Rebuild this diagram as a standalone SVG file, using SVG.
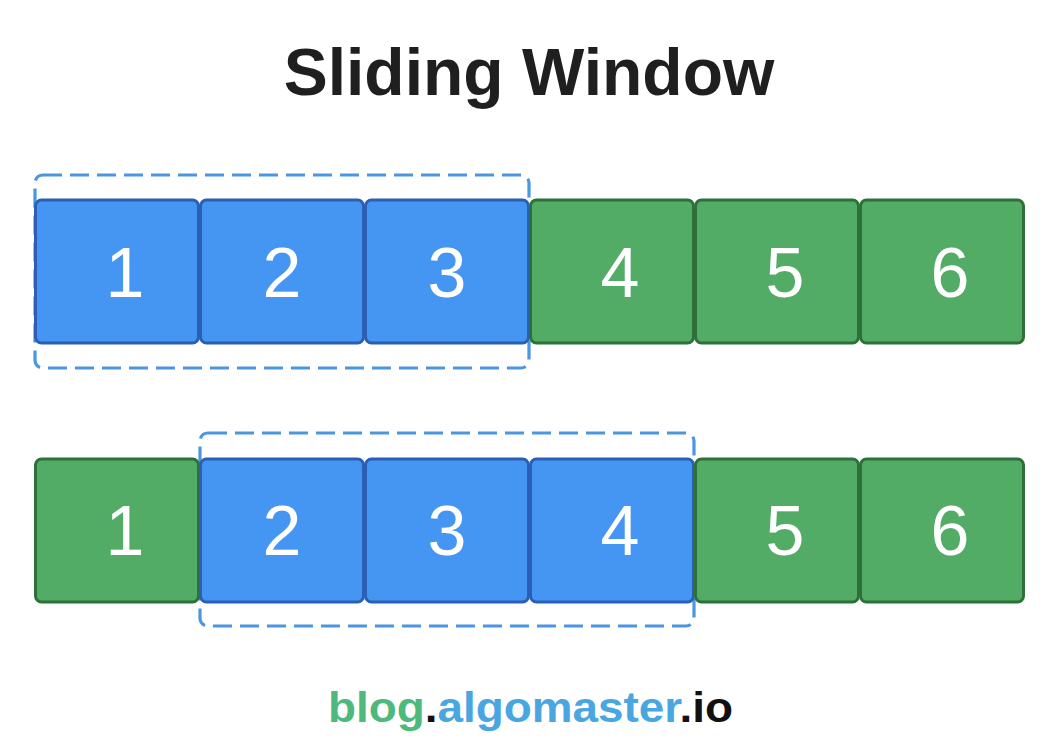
<svg xmlns="http://www.w3.org/2000/svg" width="1062" height="738" viewBox="0 0 1062 738">
<style>
.title{font-family:"Liberation Sans",Arial,sans-serif;font-weight:bold;font-size:66px;fill:#1f1f1f}
.num{font-family:"Liberation Sans",Arial,sans-serif;font-size:70px;fill:#ffffff}
.blue{fill:#4595f2;stroke:#2a5fb5;stroke-width:3}
.green{fill:#53ac66;stroke:#2d7039;stroke-width:3}
.win{fill:none;stroke:#4a96e0;stroke-width:3.2;stroke-dasharray:19 8}
.foot{font-family:"Liberation Sans",Arial,sans-serif;font-weight:bold;font-size:43px}
</style>
<rect width="1062" height="738" fill="#ffffff"/>
<text class="title" x="529" y="95" text-anchor="middle">Sliding Window</text>
<g id="connectors">
<rect class="win" x="35" y="175" width="494" height="193" rx="8"/>
<rect class="win" x="200" y="433" width="494" height="193" rx="8"/>
</g>
<g id="row1">
<g id="r1n1"><rect class="blue" x="35.5" y="200" width="163" height="143" rx="6"/><text class="num" x="125" y="297" text-anchor="middle">1</text></g>
<g id="r1n2"><rect class="blue" x="200.5" y="200" width="163" height="143" rx="6"/><text class="num" x="282" y="297" text-anchor="middle">2</text></g>
<g id="r1n3"><rect class="blue" x="365.5" y="200" width="163" height="143" rx="6"/><text class="num" x="447" y="297" text-anchor="middle">3</text></g>
<g id="r1n4"><rect class="green" x="530.5" y="200" width="163" height="143" rx="6"/><text class="num" x="620" y="297" text-anchor="middle">4</text></g>
<g id="r1n5"><rect class="green" x="695.5" y="200" width="163" height="143" rx="6"/><text class="num" x="785" y="297" text-anchor="middle">5</text></g>
<g id="r1n6"><rect class="green" x="860.5" y="200" width="163" height="143" rx="6"/><text class="num" x="950" y="297" text-anchor="middle">6</text></g>
</g>
<g id="row2">
<g id="r2n1"><rect class="green" x="35.5" y="459" width="163" height="143" rx="6"/><text class="num" x="125" y="555" text-anchor="middle">1</text></g>
<g id="r2n2"><rect class="blue" x="200.5" y="459" width="163" height="143" rx="6"/><text class="num" x="282" y="555" text-anchor="middle">2</text></g>
<g id="r2n3"><rect class="blue" x="365.5" y="459" width="163" height="143" rx="6"/><text class="num" x="447" y="555" text-anchor="middle">3</text></g>
<g id="r2n4"><rect class="blue" x="530.5" y="459" width="163" height="143" rx="6"/><text class="num" x="620" y="555" text-anchor="middle">4</text></g>
<g id="r2n5"><rect class="green" x="695.5" y="459" width="163" height="143" rx="6"/><text class="num" x="785" y="555" text-anchor="middle">5</text></g>
<g id="r2n6"><rect class="green" x="860.5" y="459" width="163" height="143" rx="6"/><text class="num" x="950" y="555" text-anchor="middle">6</text></g>
</g>
<text class="foot" x="328" y="722" textLength="405" lengthAdjust="spacingAndGlyphs"><tspan fill="#4db97c">blog</tspan><tspan fill="#111111">.</tspan><tspan fill="#4aa6e0">algomaster</tspan><tspan fill="#111111">.io</tspan></text>
</svg>
